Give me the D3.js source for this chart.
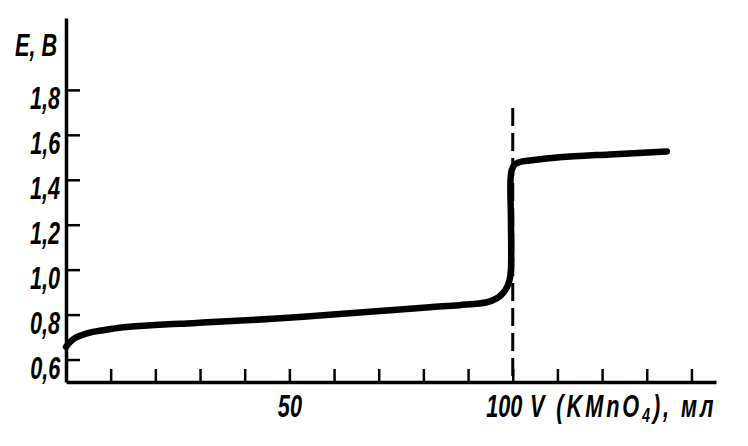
<!DOCTYPE html>
<html><head><meta charset="utf-8">
<script src="https://cdn.jsdelivr.net/npm/d3@7"></script>
<style>
html,body{margin:0;padding:0;background:#fff;}
text{font-family:"Liberation Sans",Arial,sans-serif;font-style:italic;font-weight:bold;fill:#000;}
.nx{transform-box:fill-box;transform:scaleX(0.7);}
.ry{transform-origin:100% 50%;}
.cx{transform-origin:50% 50%;}
.lx{transform-origin:0% 50%;}
</style></head>
<body><svg id="c" width="748" height="446"></svg>
<script>
// Data: volume of KMnO4 (ml) vs potential E (V)
const volume = [0, 0.9, 2.0, 4.3, 6.0, 10, 13.6, 21, 28.4, 36, 46.3, 59, 70.2, 81.4, 88.1, 94.2, 96.4, 97.8, 98.7, 99.3, 99.6, 99.6, 99.5, 99.8, 100.4, 101.6, 103.8, 110.5, 121.7, 134.5];
const potential = [0.656, 0.678, 0.696, 0.714, 0.723, 0.736, 0.745, 0.755, 0.762, 0.77, 0.781, 0.799, 0.816, 0.833, 0.842, 0.855, 0.872, 0.895, 0.922, 0.955, 1.0, 1.223, 1.40, 1.445, 1.467, 1.479, 1.486, 1.50, 1.513, 1.526];
const yTicks = [0.6, 0.8, 1.0, 1.2, 1.4, 1.6, 1.8];
const yTickLabels = ["0,6", "0,8", "1,0", "1,2", "1,4", "1,6", "1,8"];
const xTicks = [0, 10, 20, 30, 40, 50, 60, 70, 80, 90, 100, 110, 120, 130, 140];
const xTickLabels = {50: "50", 100: "100"};
const equivalence = 100;

const svg = d3.select("#c");
const x = d3.scaleLinear().domain([0, 145.5]).range([66, 716]);
const y = d3.scaleLinear().domain([0.5, 2.12]).range([382, 18]);

// y axis
const yAxis = d3.axisLeft(y).tickValues(yTicks).tickSize(-14).tickSizeOuter(0).tickPadding(6)
  .tickFormat((d, i) => yTickLabels[i]);
const gy = svg.append("g").attr("transform", "translate(66,0)").call(yAxis);
gy.select(".domain").attr("stroke", "#000").attr("stroke-width", 3.5);
gy.selectAll(".tick line").attr("stroke", "#000").attr("stroke-width", 2.5);
gy.selectAll(".tick text").attr("font-size", 31).attr("dy", "0.6em").attr("font-family", null)
  .attr("class", "nx ry");

// x axis
const xAxis = d3.axisBottom(x).tickValues(xTicks).tickSize(-13).tickSizeOuter(0).tickPadding(13)
  .tickFormat(d => xTickLabels[d] || "");
const gx = svg.append("g").attr("transform", "translate(0,382)").call(xAxis);
gx.select(".domain").attr("stroke", "#000").attr("stroke-width", 3.5);
gx.selectAll(".tick line").attr("stroke", "#000").attr("stroke-width", 2.5);
gx.selectAll(".tick text").attr("font-size", 31).attr("dy", "0.71em").attr("font-family", null)
  .attr("dx", d => d === 100 ? -9 : 0).attr("class", "nx cx");

// dashed equivalence line
svg.append("line")
  .attr("x1", x(equivalence)).attr("x2", x(equivalence))
  .attr("y1", 108).attr("y2", 382)
  .attr("stroke", "#000").attr("stroke-width", 3).attr("stroke-dasharray", "18,7");

// curve
const pts = volume.map((v, i) => [v, potential[i]]);
const line = d3.line().x(d => x(d[0])).y(d => y(d[1])).curve(d3.curveCatmullRom.alpha(0.5));
svg.append("path").datum(pts).attr("d", line)
  .attr("fill", "none").attr("stroke", "#000").attr("stroke-width", 6.5)
  .attr("stroke-linecap", "round").attr("stroke-linejoin", "round");

// axis titles
svg.append("text").attr("x", 15).attr("y", 56).attr("font-size", 31).attr("class", "nx lx").text("E, В");
const t = svg.append("text").attr("x", 530).attr("y", 417).attr("font-size", 31)
  .attr("class", "nx lx").attr("letter-spacing", 4.2);
t.append("tspan").text("V (KMnO");
t.append("tspan").attr("font-size", 20).attr("dy", 5).text("4");
t.append("tspan").attr("dy", -5).text("), мл");
</script></body></html>
